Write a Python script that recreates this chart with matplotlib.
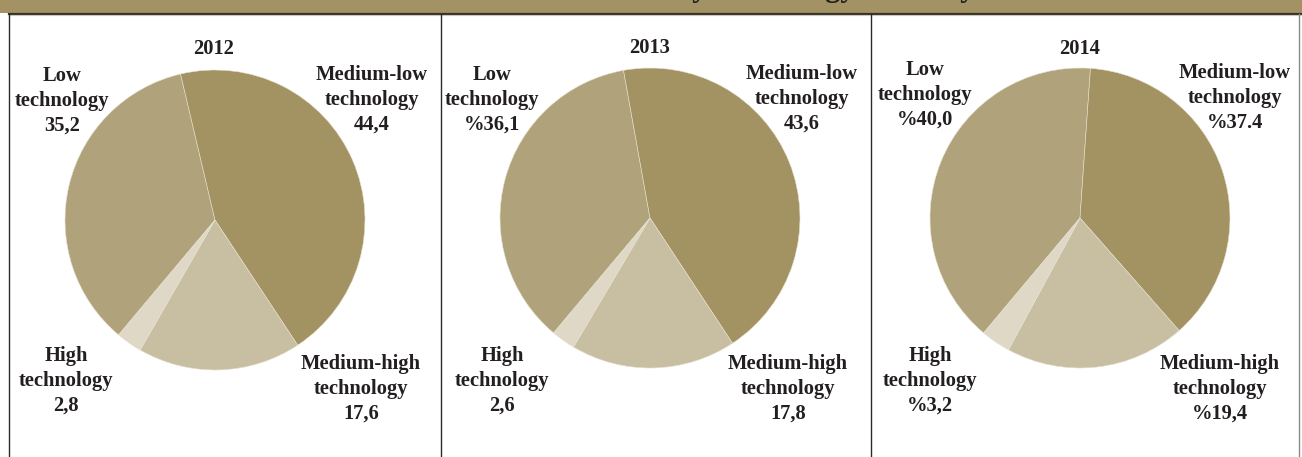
import matplotlib
matplotlib.use("Agg")
import matplotlib.pyplot as plt
from matplotlib.patches import Rectangle
from matplotlib.lines import Line2D

# ---- data ----
years = ["2012", "2013", "2014"]
categories = ["Low\ntechnology", "Medium-low\ntechnology", "Medium-high\ntechnology", "High\ntechnology"]
values_2012 = [35.2, 44.4, 17.6, 2.8]
values_2013 = [36.1, 43.6, 17.8, 2.6]
values_2014 = [40.0, 37.4, 19.4, 3.2]
labels_2012 = ["35,2", "44,4", "17,6", "2,8"]
labels_2013 = ["%36,1", "43,6", "17,8", "2,6"]
labels_2014 = ["%40,0", "%37.4", "%19,4", "%3,2"]
title = "Distribution of Sales by technology intensity"

all_values = [values_2012, values_2013, values_2014]
all_labels = [labels_2012, labels_2013, labels_2014]

colors = ["#B0A27A", "#A39262", "#C8BEA2", "#E0D8C6"]
txt_color = "#231F20"

W, H = 1302, 457
fig = plt.figure(figsize=(W / 100, H / 100), dpi=100)
fig.patch.set_facecolor("white")

def fx(px):
    return px / W

def fy(py):
    return 1 - py / H

# banner
fig.patches.append(Rectangle((0, fy(13)), 1, 13 / H, transform=fig.transFigure,
                             facecolor="#A39263", edgecolor="none", zorder=0))
fig.lines.append(Line2D([fx(9), 1], [fy(13.5), fy(13.5)], transform=fig.transFigure,
                        color="#3A3121", lw=1.6))
fig.lines.append(Line2D([fx(9), 1], [fy(15.2), fy(15.2)], transform=fig.transFigure,
                        color="#C8C8C8", lw=0.8))
fig.text(fx(975), fy(-3.5), title, ha="right", va="baseline", fontsize=22,
         family="Liberation Serif", fontweight="bold", color=txt_color)

# panel borders
for x, c in [(9.3, "#2A2A2A"), (440.7, "#2A2A2A"), (871, "#2A2A2A"), (1299, "#8A8A8A")]:
    fig.lines.append(Line2D([fx(x), fx(x)], [fy(14), 0], transform=fig.transFigure,
                            color=c, lw=1.0))

centers = [(215, 220), (650, 218), (1080, 218)]
R = 150
label_pos = [
    [(62, 101), (372, 100), (361, 389), (66, 381)],
    [(492, 100), (802, 99), (788, 389), (502, 381)],
    [(925, 95), (1235, 98), (1220, 389), (930, 381)],
]
year_pos = [(214, 49), (650, 48), (1080, 49)]

font = dict(family="Liberation Serif", fontweight="bold", color=txt_color, fontsize=14.8)

for i, (cx, cy) in enumerate(centers):
    ax = fig.add_axes([fx(cx - R), fy(cy + R), 2 * R / W, 2 * R / H])
    ax.pie(all_values[i], colors=colors, startangle=230, counterclock=False,
           radius=1.0, wedgeprops=dict(edgecolor="#E6E0D0", linewidth=0.4))
    ax.set_xlim(-1, 1)
    ax.set_ylim(-1, 1)
    ax.set_aspect("auto")
    ax.axis("off")
    yx, yy = year_pos[i]
    fig.text(fx(yx), fy(yy), years[i], ha="center", va="center", **font)
    for j, cat in enumerate(categories):
        px, py = label_pos[i][j]
        fig.text(fx(px), fy(py), f"{cat}\n{all_labels[i][j]}", ha="center", va="center",
                 linespacing=1.32, **font)

fig.savefig("out.png", dpi=100)
